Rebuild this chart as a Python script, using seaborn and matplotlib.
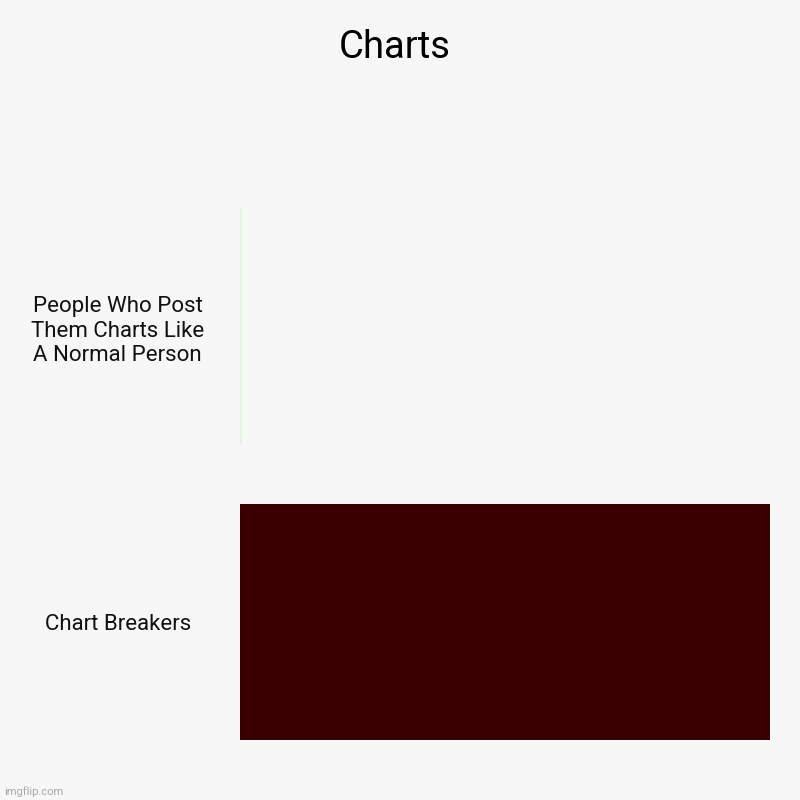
import textwrap
import matplotlib
matplotlib.use("Agg")
import matplotlib.pyplot as plt
import seaborn as sns
import pandas as pd

categories = ["People Who Post Them Charts Like A Normal Person", "Chart Breakers"]
values = [0.45, 100]
colors = ["#e6f4e3", "#380000"]
title = "Charts"

sns.set_theme(style="white")
plt.rcParams["font.family"] = ["Roboto", "DejaVu Sans"]

df = pd.DataFrame({"cat": categories, "val": values})

fig = plt.figure(figsize=(8, 8), dpi=100, facecolor="#f7f7f7")
ax = fig.add_axes([0.3, 0.0375, 0.6625, 0.739])
ax.set_facecolor("#f7f7f7")
sns.barplot(data=df, x="val", y="cat", hue="cat", palette=colors, orient="h",
            width=0.8, legend=False, ax=ax, saturation=1, linewidth=0)
ax.set_xlim(0, 100)
ax.set_ylim(1.5, -0.5)
for s in ax.spines.values():
    s.set_visible(False)
ax.set_xticks([])
ax.set_xlabel("")
ax.set_ylabel("")
ax.set_yticks(range(len(categories)))
ax.set_yticklabels([textwrap.fill(c, 17) for c in categories], ha="center",
                   fontsize=16, color="#111111", linespacing=1.24)
ax.tick_params(axis="y", length=0, pad=88)

fig.text(0.494, 0.941, title, ha="center", va="center", fontsize=27.5, color="#000000")
fig.text(0.005, 0.004, "imgflip.com", ha="left", va="bottom", fontsize=8, color="#a8a8a8")

fig.savefig("out.png", dpi=100, facecolor=fig.get_facecolor())
